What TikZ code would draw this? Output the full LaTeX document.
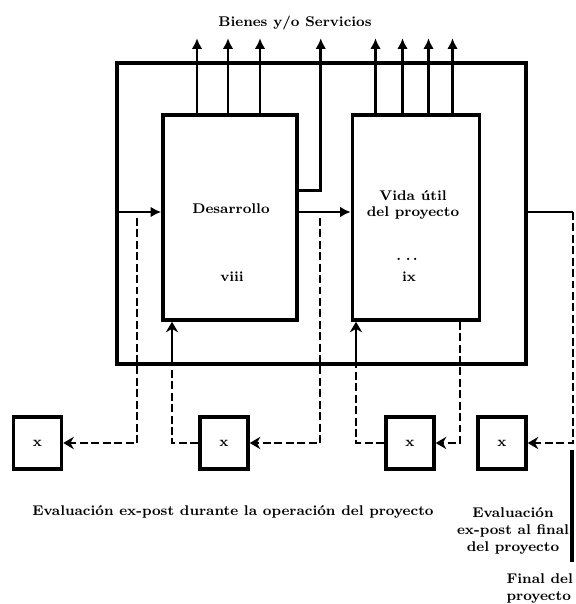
\documentclass[tikz,border=0pt]{standalone}
\usepackage{tikz}
\usetikzlibrary{positioning, calc, arrows.meta}

\begin{document}
\begin{tikzpicture}[x=0.2mm, y=-0.2mm, every node/.style={font=\footnotesize\bfseries, align=center}, stage/.style={draw, line width=2pt, minimum height=41mm}, evalbox/.style={draw, line width=2pt, minimum width=9.6mm, minimum height=10.4mm}, arrow/.style={-{Latex[length=6pt, width=6pt]}, line width=1.6pt}, inarrow/.style={-{Stealth[length=6pt, width=7pt]}, line width=1.4pt}, loopline/.style={line width=2pt}, feedback/.style={line width=1.3pt, dash pattern=on 4.5pt off 2pt}, fbarrow/.style={feedback, -{Stealth[length=6pt, width=7pt]}}]
      \useasboundingbox (0,0) rectangle (575,604);

      \node[stage, minimum width=26.8mm] (dev) at (230,217.5) {};
      \node[stage, minimum width=25.4mm, right=10.4mm of dev] (life) {};
      \node (devname) at (231,209) {Desarrollo}; \node (devnum) at (232,277)
      {viii}; \node (lifename) at (413,205) {Vida útil\\del proyecto};
      \node (lifedots) at (407,259) {.\,\,.\,.}; \node (lifenum) at (409,277)
      {ix};

      \node[evalbox] (ev1) at (37.5,443) {x}; \node[evalbox] (ev2) at (224,443)
      {x}; \node[evalbox] (ev3) at (410,443) {x}; \node[evalbox] (ev4) at
      (502,443) {x};

      \node (title) at (295,23) {Bienes y/o Servicios};
      \node (during) at (233,512) {Evaluación ex-post durante la operación del
      proyecto}; \node (atend) at (513,531) {Evaluación\\ex-post al
      final\\del proyecto}; \node[anchor=north east, align=left, inner sep=1pt]
      (final) at (575,572) {Final del\\proyecto};

      % marco del sistema
      \coordinate (fNW) at (117,63); \coordinate (fSE) at (526,364);
      \coordinate (flow) at (0,212);
      \draw[loopline] (fNW) rectangle (fSE);

      % salidas de bienes y servicios
      \foreach \dx in {-33,-2,30} \draw[arrow] ($(dev.north)+(\dx,0)$) --
      ++(0,-75); \foreach \dx in {-40.5,-13.5,12.5,36.5} \draw[arrow]
      ($(life.north)+(\dx,0)$) -- ++(0,-75); \draw[arrow] ($(dev.north
      east)+(0,77)$) -- ++(22,0) -- ++(0,-152);

      \draw[arrow] (fNW |- flow) -- (dev.west |- flow); \draw[arrow] (dev.east
      |- flow) -- (life.west |- flow);

      % evaluaciones
      \coordinate (t1) at (137,218); \coordinate (t2) at (320,218);
      \coordinate (in1) at (172,364); \coordinate (in2) at (356,364);
      \coordinate (rt) at (573,212);
      \draw[fbarrow] (t1) |- (ev1.east); \draw[feedback] (ev2.west) -| (in1);
      \draw[inarrow] (in1) -- (in1 |- dev.south); \draw[fbarrow] (t2) |-
      (ev2.east); \draw[feedback] (ev3.west) -| (in2); \draw[inarrow] (in2) --
      (in2 |- life.south); \draw[fbarrow] ($(life.south)+(44,0)$) |-
      (ev3.east); \draw[line width=1.3pt] (fSE |- flow) -- (rt); \draw[fbarrow]
      (rt) |- (ev4.east);

      \coordinate (endtop) at (572,450); \coordinate (endbot) at (572,562);
      \draw[loopline] (endtop) -- (endbot);
    \end{tikzpicture}
\end{document}
